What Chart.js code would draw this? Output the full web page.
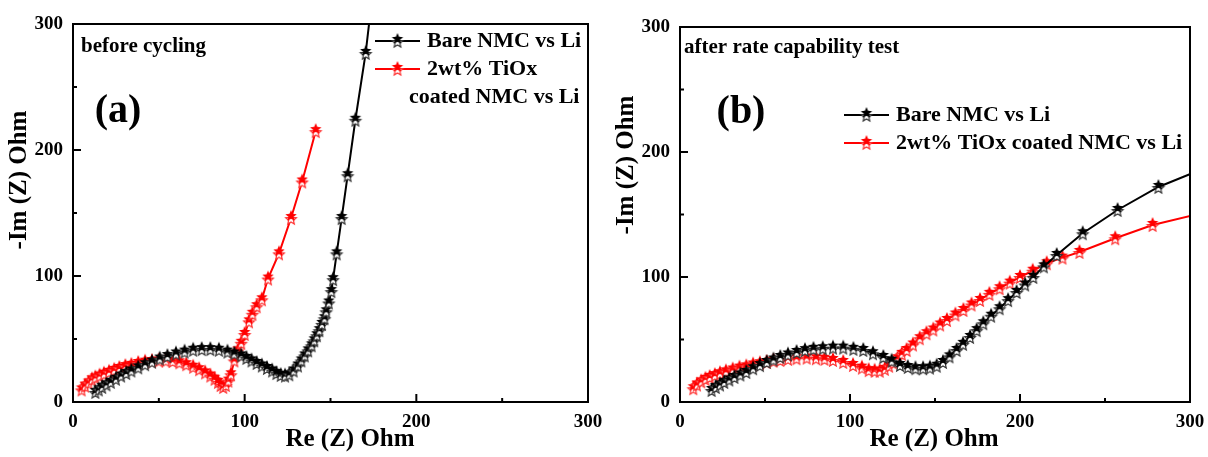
<!DOCTYPE html>
<html>
<head>
<meta charset="utf-8">
<script src="https://cdn.jsdelivr.net/npm/chart.js@4.4.0/dist/chart.umd.min.js"></script>
<style>
body{margin:0;background:#fff;width:1208px;height:457px;overflow:hidden;position:relative}
canvas{position:absolute;top:0}
#ca{left:0}
#cb{left:604px}
</style>
</head>
<body>
<canvas id="ca" width="604" height="457"></canvas>
<canvas id="cb" width="604" height="457"></canvas>
<script>
// (a) before cycling
var aBareX = [13,15,17,19.5,22,25,28,31,34,38,42,46,50.5,55,60,65,70,75,80,85,90,94,98,101,104,107,110,113,116,118.5,121,123.5,126,128.5,131,133,135,137,139,140.5,142,143.5,145,146.5,147.5,149,150.5,151.5,153.6,156.5,160,164.5,170.5,175]
var aBareY = [8,10,12,14,16,18.5,21,23,25,27.5,30,32,34.5,36.5,38.5,40,41.5,42,42,41.5,40,38.5,37,35,33,31,29,27,25,23,21.5,21,22,25,29,33,37,41,45,49,53,57,62,66.5,72,79,88,97.5,118,146,180,224,277,330]
var aCoatX = [5,7,9,11,13,15.5,18,21,24,27,30.5,34,38,42,46,50,54,58,62,66,70,73.5,77,80,82.5,84.5,86,87.5,89,90.5,92,94,96,98,100,102.5,104.5,107,110,113.6,120,127,133.5,141.4]
var aCoatY = [10,13,15.5,18,19.5,21,22.5,24,25.5,27,28.5,29.5,31,32,32.5,33,33,32.5,31.5,30,28,26,23.5,21,18.5,16,13.5,12,13.5,17,22,33,41,47,54,64,70,76,81.5,98,118,146,175,215]

// (b) after rate capability test
var bBareX = [18.6,21,23.5,26,29,32,35.5,39,43,47,51,55,59,63.5,68.6,73.5,78.5,84,90,96,102,107.8,113.5,119.6,124.5,129.4,134,138.5,143,147,151,154.7,158.5,162.7,166.5,170.6,174.5,178.4,183,188,193,198,203,207.8,214,221.6,236.9,257.4,281.4,312]
var bBareY = [9.6,12,14,16,18,20,22,24,27,29.5,32,34,36,38,40,41.5,42.5,43,43.5,43.5,42.5,41.6,39,36,33,29.6,28,27,27,27.5,29,32,36.5,41.6,46.5,52,57.5,63,69,75,81.5,88,94,100,108.5,117.6,135,153.6,172,189]
var bCoatX = [7.8,10,12.5,15,17.5,20.5,23.5,27,31,35,39,43,47,51,55,59,63.5,68.5,74.5,80,85,90,96,101.8,107,111,114.5,117.5,120.5,123,125.5,128,130.5,133.3,137,141,145,149,153,157,162,166.7,171.5,176.5,182,188,194,200,207.5,215.7,225,235,256,278,310]
var bCoatY = [11,14,16.5,18.5,20,21.5,23,24.5,26,27.5,28.5,30,31,32,33,33.6,34.5,35,35.5,35,34.5,33.6,32,29.6,27.5,25.5,25,25,26.5,29,31.5,35,38.5,41.6,46,51,55,58,62,65.6,70,73.6,78,81.6,86.5,91,95.5,100,105,111,115.5,120,131,141.6,152]

var axisTicks = [0,100,200,300]
var minorTicks = [50,150,250]
var xTitle = 'Re (Z) Ohm'
var yTitle = '-Im (Z) Ohm'
var legendA = ['Bare NMC vs Li', '2wt% TiOx', 'coated NMC vs Li']
var legendB = ['Bare NMC vs Li', '2wt% TiOx coated NMC vs Li']

var FONT = '"Liberation Serif", "Times New Roman", serif'

function starPath(g, cx, cy, r) {
    g.beginPath()
    for (var i = 0; i < 10; i++) {
        var rr = i % 2 ? r * 0.45 : r
        var a = -Math.PI / 2 + i * Math.PI / 5
        g.lineTo(cx + rr * Math.cos(a), cy + rr * Math.sin(a))
    }
    g.closePath()
}
// half-filled look: hollow star underneath, solid star slightly above
function makeStar(color, light) {
    var c = document.createElement('canvas')
    c.width = 16; c.height = 18
    var g = c.getContext('2d')
    starPath(g, 8, 10.5, 5.6)
    g.fillStyle = '#fff'; g.fill()
    g.lineWidth = 1.2; g.strokeStyle = light; g.stroke()
    starPath(g, 8, 7, 6)
    g.fillStyle = color; g.fill()
    return c
}
var starBlack = makeStar('#000', '#333')
var starRed = makeStar('#ff0000', '#ff3030')

function pts(xs, ys) {
    var out = []
    for (var i = 0; i < xs.length; i++) out.push({x: xs[i], y: ys[i]})
    return out
}

function deco(cfg) {
    return {
        id: 'deco',
        afterDraw: function(chart) {
            var ctx = chart.ctx, ca = chart.chartArea
            var xs = chart.scales.x, ys = chart.scales.y
            ctx.save()
            // frame
            ctx.strokeStyle = '#000'; ctx.lineWidth = 2
            ctx.strokeRect(ca.left, ca.top, ca.right - ca.left, ca.bottom - ca.top)
            // inward ticks
            axisTicks.concat(minorTicks).forEach(function(v) {
                var len = minorTicks.indexOf(v) >= 0 ? 4 : 8
                var px = xs.getPixelForValue(v)
                ctx.beginPath(); ctx.moveTo(px, ca.bottom); ctx.lineTo(px, ca.bottom - len); ctx.stroke()
                var py = ys.getPixelForValue(v)
                ctx.beginPath(); ctx.moveTo(ca.left, py); ctx.lineTo(ca.left + len, py); ctx.stroke()
            })
            ctx.fillStyle = '#000'
            ctx.textBaseline = 'middle'
            // axis titles
            ctx.font = 'bold 25px ' + FONT
            ctx.textAlign = 'center'
            ctx.fillText(xTitle, cfg.xt[0], cfg.xt[1])
            ctx.save()
            ctx.translate(cfg.yt[0], cfg.yt[1]); ctx.rotate(-Math.PI / 2)
            ctx.fillText(yTitle, 0, 0)
            ctx.restore()
            // panel tag and note
            ctx.font = 'bold 40px ' + FONT
            ctx.fillText(cfg.tag, cfg.tagPos[0], cfg.tagPos[1])
            ctx.textAlign = 'left'
            ctx.font = 'bold 21px ' + FONT
            ctx.fillText(cfg.note, cfg.notePos[0], cfg.notePos[1])
            // legend
            ctx.font = 'bold 22px ' + FONT
            cfg.legend.forEach(function(it) {
                if (it.line) {
                    ctx.strokeStyle = it.color; ctx.lineWidth = 2
                    ctx.beginPath(); ctx.moveTo(it.line[0], it.y); ctx.lineTo(it.line[1], it.y); ctx.stroke()
                    var mid = (it.line[0] + it.line[1]) / 2
                    ctx.drawImage(it.star, mid - 8, it.y - 9)
                }
                ctx.fillStyle = '#000'
                ctx.fillText(it.text, it.tx, it.y)
            })
            ctx.restore()
        }
    }
}

function makeChart(id, pad, yw, sets, cfg) {
    var tickFont = {family: FONT, size: 19, weight: 'bold'}
    return new Chart(document.getElementById(id), {
        type: 'scatter',
        data: {
            datasets: sets.map(function(s) {
                return {
                    data: pts(s[0], s[1]),
                    showLine: true,
                    borderColor: s[2],
                    borderWidth: 2,
                    pointStyle: s[3],
                    pointRadius: 5,
                    tension: 0
                }
            })
        },
        options: {
            responsive: false,
            animation: false,
            events: [],
            layout: {padding: pad},
            plugins: {legend: {display: false}, tooltip: {enabled: false}},
            scales: {
                x: {
                    type: 'linear', min: 0, max: 300,
                    grid: {display: false, drawTicks: false},
                    border: {display: false},
                    ticks: {stepSize: 100, padding: 9, color: '#000', font: tickFont, maxRotation: 0},
                    afterFit: function(s) { s.height = 55; s.paddingLeft = 0; s.paddingRight = 0 }
                },
                y: {
                    type: 'linear', min: 0, max: 300,
                    grid: {display: false, drawTicks: false},
                    border: {display: false},
                    ticks: {stepSize: 100, padding: 10, color: '#000', font: tickFont},
                    afterFit: function(s) { s.width = yw; s.paddingTop = 0; s.paddingBottom = 0 }
                }
            }
        },
        plugins: [deco(cfg)]
    })
}

makeChart('ca', {left: 0, top: 24, right: 16, bottom: 0}, 73,
    [[aBareX, aBareY, '#000', starBlack], [aCoatX, aCoatY, '#ff0000', starRed]],
    {
        xt: [350, 440], yt: [20, 180],
        tag: '(a)', tagPos: [118, 112],
        note: 'before cycling', notePos: [81, 47],
        legend: [
            {text: legendA[0], tx: 427, y: 41, line: [375, 420], color: '#000', star: starBlack},
            {text: legendA[1], tx: 427, y: 69, line: [375, 420], color: '#ff0000', star: starRed},
            {text: legendA[2], tx: 409, y: 97}
        ]
    })

makeChart('cb', {left: 0, top: 27, right: 18, bottom: 0}, 76,
    [[bBareX, bBareY, '#000', starBlack], [bCoatX, bCoatY, '#ff0000', starRed]],
    {
        xt: [330, 440], yt: [23, 165],
        tag: '(b)', tagPos: [137, 113],
        note: 'after rate capability test', notePos: [80, 48],
        legend: [
            {text: legendB[0], tx: 292, y: 115, line: [240, 285], color: '#000', star: starBlack},
            {text: legendB[1], tx: 292, y: 143, line: [240, 285], color: '#ff0000', star: starRed}
        ]
    })
</script>
</body>
</html>
